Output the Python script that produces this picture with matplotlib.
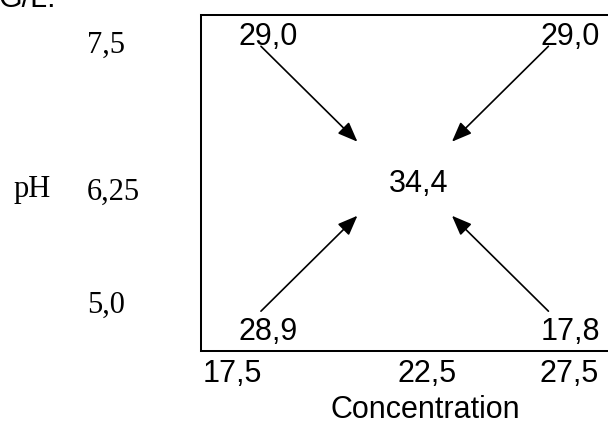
import matplotlib
matplotlib.use("Agg")
import matplotlib.pyplot as plt

# design levels (real units) and coded design points
conc_levels = [17.5, 22.5, 27.5]
ph_levels = [5.0, 6.25, 7.5]
coded_x = [-1, 1, -1, 1, 0]
coded_y = [-1, -1, 1, 1, 0]
response = [28.9, 17.8, 29.0, 29.0, 34.4]

W, H = 608, 421
SANS = "Liberation Sans"
SERIF = "Liberation Serif"
FS = 22


def fmt(v):
    return str(v).replace(".", ",")


def px(x, y):
    # pixel position -> figure fraction
    return x / W, 1 - y / H


fig = plt.figure(figsize=(W / 100, H / 100), dpi=100)
l, t = px(201, 15)
r, b = px(615, 351)
ax = fig.add_axes([l, b, r - l, t - b])
ax.set_xlim(-1.444, 1.298)
ax.set_ylim(-1.075, 1.203)
ax.set_xticks([])
ax.set_yticks([])
for s in ax.spines.values():
    s.set_linewidth(1.45)
    s.set_color("black")

# response values at the design points
for x, y, v in zip(coded_x, coded_y, response):
    ax.text(x, y, f"{v:.1f}".replace(".", ","), ha="center", va="baseline",
            fontsize=FS, family=SANS)

# arrows from the corners toward the centre point
cx, cy = -0.095, 0.093
for x, y in zip(coded_x, coded_y):
    if x == 0 and y == 0:
        continue
    ax.annotate("", xy=(cx + 0.313 * x, cy + 0.251 * y),
                xytext=(cx + 0.952 * x, cy + 0.898 * y),
                arrowprops=dict(arrowstyle="-|>,head_length=0.55,head_width=0.22",
                                mutation_scale=22, lw=1.2,
                                color="black", shrinkA=0, shrinkB=0))

# pH levels (left)
for v, yb in zip(ph_levels, [313, 200, 53]):
    fig.text(*px(87, yb), fmt(v), ha="left", va="baseline",
             fontsize=FS, family=SERIF)
fig.text(*px(14, 197), "pH", ha="left", va="baseline", fontsize=FS, family=SERIF)

# concentration levels (bottom)
for v, xc in zip(conc_levels, [232, 427, 569]):
    fig.text(*px(xc, 382), fmt(v), ha="center", va="baseline",
             fontsize=FS, family=SANS)
fig.text(*px(425, 418), "Concentration", ha="center", va="baseline",
         fontsize=FS, family=SANS)

fig.text(*px(-2, 7), "G/L.", ha="left", va="baseline", fontsize=FS, family=SANS)

fig.savefig("out.png", dpi=100)
